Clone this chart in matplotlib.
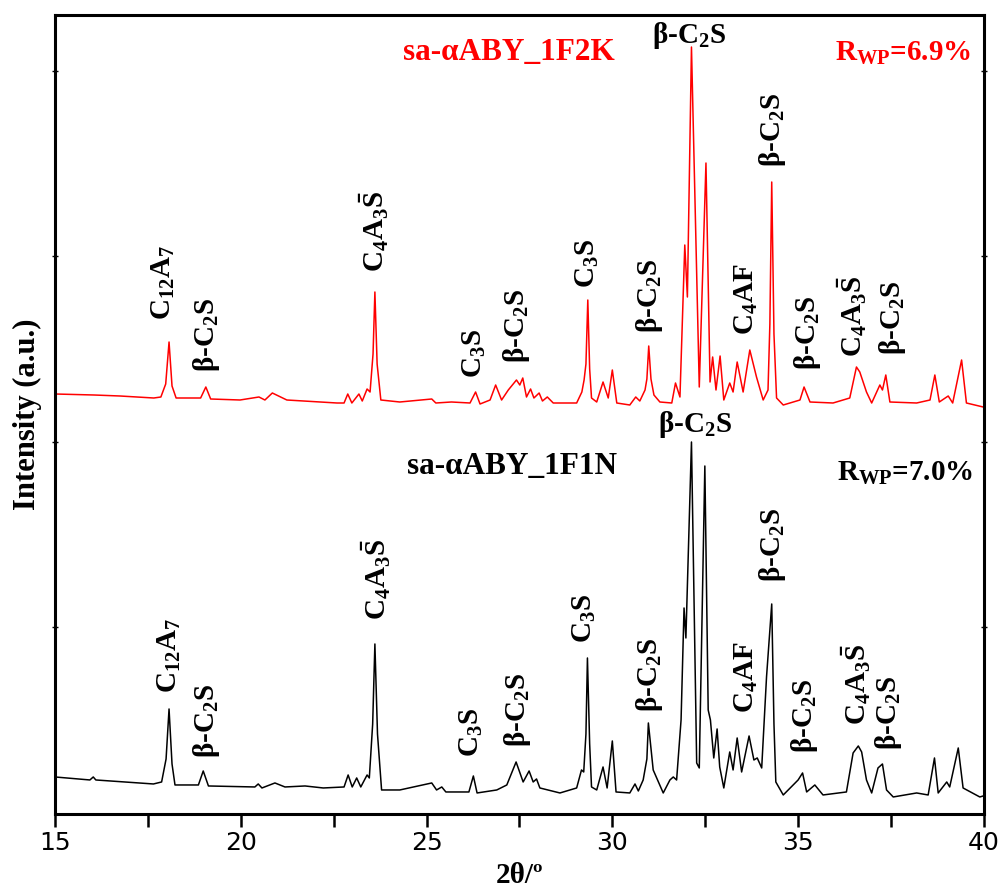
import matplotlib
matplotlib.use("Agg")
import matplotlib.pyplot as plt
from matplotlib.ticker import MultipleLocator

plt.rcParams['mathtext.fontset'] = 'custom'
plt.rcParams['mathtext.rm'] = 'Liberation Serif:bold'
plt.rcParams['mathtext.it'] = 'Liberation Serif:bold:italic'
plt.rcParams['mathtext.bf'] = 'Liberation Serif:bold'
plt.rcParams['mathtext.default'] = 'rm'

# ---- pattern: 2theta (deg) and intensity (a.u.) ----
red_tt = [15.00, 16.05, 16.75, 17.66, 17.85, 17.98, 18.07, 18.15, 18.26, 18.92,
          19.06, 19.19, 19.98, 20.49, 20.65, 20.85, 21.24, 22.59, 22.78, 22.88,
          22.99, 23.18, 23.27, 23.40, 23.48, 23.56, 23.61, 23.67, 23.77, 24.28,
          25.14, 25.25, 25.67, 26.17, 26.32, 26.44, 26.71, 26.86, 27.02, 27.20,
          27.42, 27.51, 27.59, 27.69, 27.80, 27.89, 28.03, 28.12, 28.25, 28.41,
          29.04, 29.18, 29.24, 29.29, 29.34, 29.39, 29.44, 29.58, 29.75, 29.89,
          30.00, 30.12, 30.47, 30.63, 30.74, 30.88, 30.93, 30.98, 31.04, 31.12,
          31.28, 31.60, 31.70, 31.82, 31.95, 32.02, 32.13, 32.34, 32.52, 32.63,
          32.70, 32.79, 32.90, 33.00, 33.16, 33.25, 33.36, 33.52, 33.70, 33.88,
          34.06, 34.19, 34.24, 34.29, 34.35, 34.42, 34.60, 35.05, 35.16, 35.32,
          35.94, 36.39, 36.57, 36.66, 36.84, 36.98, 37.20, 37.27, 37.36, 37.47,
          38.19, 38.55, 38.68, 38.80, 39.04, 39.16, 39.40, 39.53, 39.98]
red_int = [30, 29, 28, 26, 27, 40, 82, 38, 26, 26,
           37, 25, 24, 27, 24, 31, 24, 21, 21, 30,
           21, 30, 23, 35, 32, 70, 132, 60, 24, 22,
           25, 21, 22, 21, 32, 20, 24, 39, 24, 34,
           44, 39, 46, 27, 35, 26, 31, 23, 27, 21,
           21, 32, 44, 60, 124, 55, 26, 22, 42, 26,
           54, 21, 19, 27, 23, 34, 45, 78, 45, 29,
           22, 21, 41, 27, 179, 127, 377, 37, 261, 42,
           67, 34, 68, 24, 41, 32, 62, 32, 74, 47,
           24, 34, 100, 242, 90, 26, 19, 24, 37, 22,
           21, 26, 57, 52, 32, 21, 39, 34, 49, 22,
           21, 24, 49, 22, 28, 21, 64, 21, 17]
red_offset = 390

black_tt = [15.00, 15.94, 16.03, 16.10, 17.65, 17.87, 17.99, 18.07, 18.15, 18.23,
            18.86, 18.99, 19.13, 20.38, 20.47, 20.57, 20.92, 21.19, 21.73, 22.22,
            22.78, 22.89, 23.00, 23.12, 23.23, 23.40, 23.46, 23.55, 23.61, 23.68,
            23.79, 24.28, 25.14, 25.27, 25.41, 25.52, 26.14, 26.26, 26.36, 26.89,
            27.16, 27.41, 27.60, 27.76, 27.87, 27.96, 28.05, 28.59, 29.04, 29.17,
            29.23, 29.29, 29.33, 29.39, 29.44, 29.58, 29.75, 29.86, 30.00, 30.10,
            30.47, 30.61, 30.70, 30.83, 30.93, 30.97, 31.10, 31.37, 31.55, 31.64,
            31.73, 31.85, 31.93, 31.98, 32.13, 32.27, 32.34, 32.49, 32.58, 32.64,
            32.73, 32.82, 32.89, 33.00, 33.16, 33.25, 33.36, 33.48, 33.68, 33.81,
            33.90, 34.02, 34.15, 34.29, 34.35, 34.40, 34.60, 35.00, 35.12, 35.23,
            35.45, 35.67, 36.30, 36.48, 36.62, 36.71, 36.84, 36.98, 37.15, 37.27,
            37.38, 37.56, 38.19, 38.50, 38.67, 38.77, 39.00, 39.08, 39.31, 39.44,
            39.89, 39.98]
black_int = [37, 34, 37, 34, 30, 32, 55, 105, 50, 29,
             29, 43, 28, 27, 30, 26, 31, 27, 28, 26,
             27, 39, 27, 36, 27, 39, 36, 90, 170, 80,
             24, 24, 31, 24, 27, 22, 22, 38, 21, 24,
             29, 52, 32, 43, 32, 35, 26, 21, 26, 44,
             42, 80, 156, 70, 27, 24, 47, 26, 73, 22,
             21, 30, 23, 34, 55, 91, 44, 21, 34, 37,
             34, 94, 206, 176, 372, 51, 46, 348, 104, 94,
             56, 85, 47, 26, 62, 44, 76, 42, 78, 54,
             56, 46, 137, 210, 90, 32, 19, 34, 41, 22,
             29, 19, 22, 61, 68, 62, 34, 21, 46, 50,
             24, 17, 21, 19, 56, 21, 32, 27, 66, 26,
             17, 18]

# ---- phase labels: text, 2theta, height where the label starts ----
b2s = r'β-C$_2$S'
c3s = r'C$_3$S'
c12 = r'C$_{12}$A$_7$'
c4a = r'C$_4$A$_3\bar{S}$'
c4f = r'C$_4$AF'
red_labels = [(c12, 17.93, 494), (b2s, 19.09, 442), (c4a, 23.61, 542),
              (c3s, 26.30, 436), (b2s, 27.43, 451), (c3s, 29.34, 526),
              (b2s, 31.01, 481), (c4f, 33.60, 479), (b2s, 34.30, 647),
              (b2s, 35.24, 444), (c4a, 36.47, 457), (b2s, 37.55, 459)]
black_labels = [(c12, 18.09, 121), (b2s, 19.09, 56), (c4a, 23.64, 194),
                (c3s, 26.22, 57), (b2s, 27.46, 67), (c3s, 29.26, 171),
                (b2s, 31.01, 102), (c4f, 33.60, 101), (b2s, 34.30, 232),
                (b2s, 35.18, 61), (c4a, 36.56, 89), (b2s, 37.42, 64)]

fig = plt.figure(figsize=(10.05, 8.89), dpi=100)
ax = fig.add_axes([0.0547, 0.0844, 0.9243, 0.8987])

ax.plot(black_tt, black_int, color='black', lw=1.1)
ax.plot(red_tt, [v + red_offset for v in red_int], color='red', lw=1.1)

serif = dict(family='Liberation Serif', fontweight='bold', fontsize=21)
for txt, x, y in red_labels + black_labels:
    ax.text(x, y, txt, rotation=90, ha='center', va='bottom', **serif)
ax.text(32.06, 779, b2s, ha='center', va='center', **serif)
ax.text(32.22, 389, b2s, ha='center', va='center', **serif)

name = dict(family='Liberation Serif', fontweight='bold', fontsize=22.5)
ax.text(24.36, 762, 'sa-αABY_1F2K', color='red', ha='left', va='center', **name)
ax.text(35.99, 761, r'R$_{WP}$=6.9%', color='red', ha='left', va='center', **serif)
ax.text(24.47, 347, 'sa-αABY_1F1N', color='black', ha='left', va='center', **name)
ax.text(36.04, 341, r'R$_{WP}$=7.0%', color='black', ha='left', va='center', **serif)

ax.set_xlim(15, 40)
ax.set_ylim(0, 799)
ax.xaxis.set_major_locator(MultipleLocator(5))
ax.xaxis.set_minor_locator(MultipleLocator(2.5))
ax.set_yticks([187, 372, 558, 743])
ax.set_yticklabels([])
ax.tick_params(axis='x', which='both', direction='out', length=9, width=1.8,
               labelsize=18, top=False)
ax.tick_params(axis='y', which='both', direction='inout', length=5, width=1,
               right=True)
for lab in ax.get_xticklabels():
    lab.set_family('DejaVu Sans')
for s in ax.spines.values():
    s.set_linewidth(2.2)

ax.set_xlabel('2θ/º', family='Liberation Serif', fontweight='bold', fontsize=21, labelpad=5)
ax.set_ylabel('Intensity (a.u.)', family='Liberation Serif', fontweight='bold',
              fontsize=22, labelpad=3)

fig.savefig('out.png', dpi=100)
